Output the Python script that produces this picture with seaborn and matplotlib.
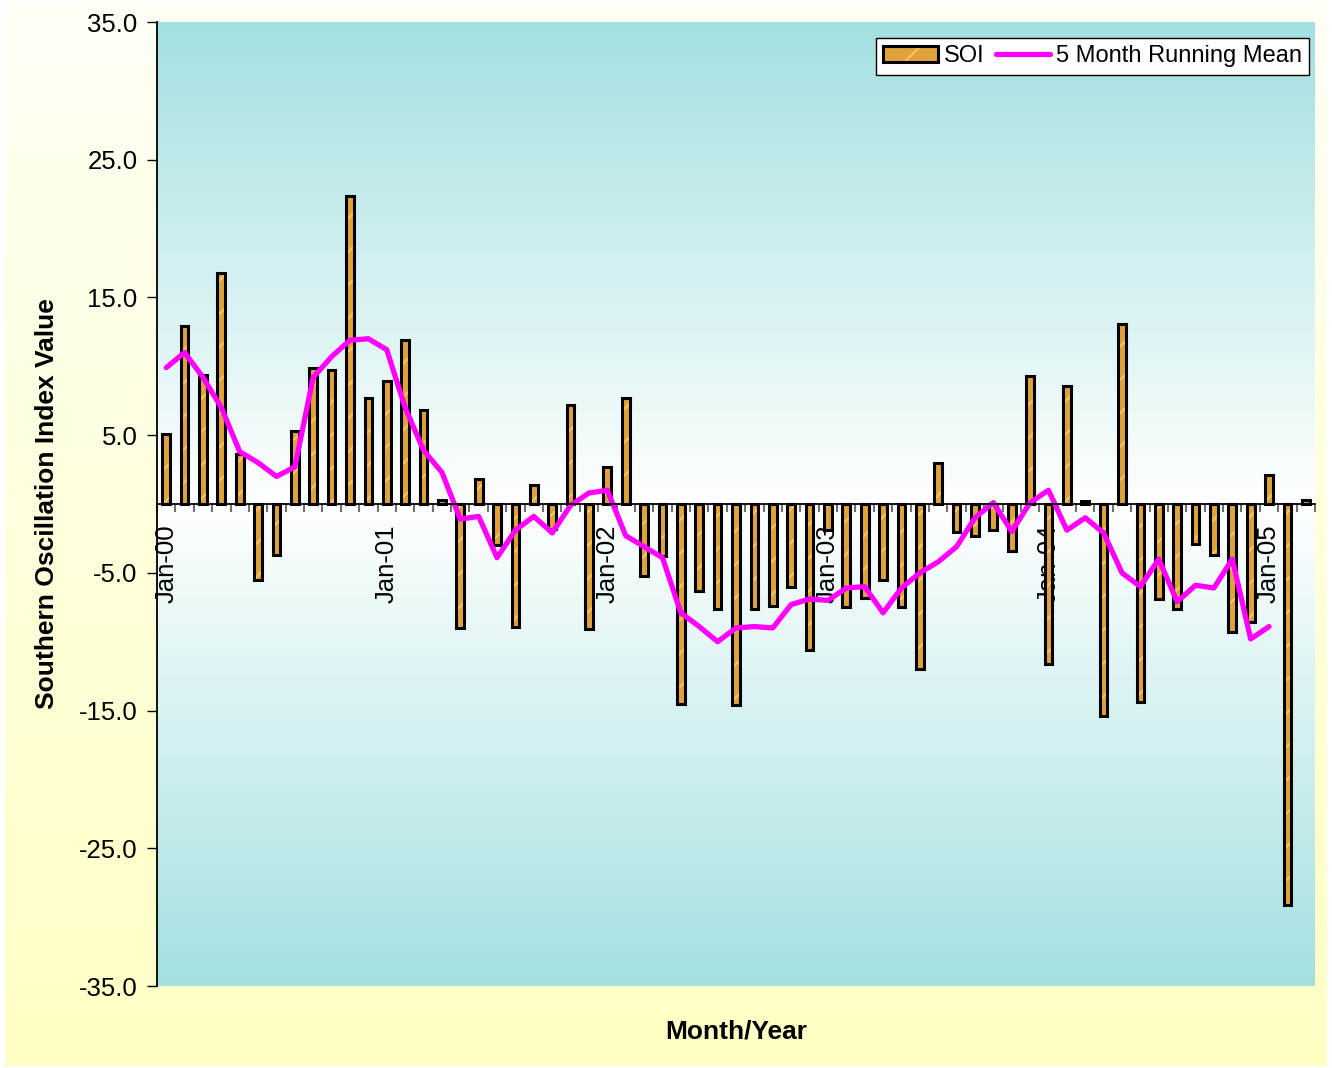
import matplotlib.pyplot as plt
import numpy as np
import pandas as pd
import seaborn as sns
from matplotlib.colors import LinearSegmentedColormap
from matplotlib.legend_handler import HandlerTuple
from matplotlib.lines import Line2D
from matplotlib.patches import Patch

# Monthly SOI, Jan 2000 - Mar 2005
months = pd.date_range("2000-01-01", periods=63, freq="MS").strftime("%b-%y").tolist()

soi = [
    5.1, 12.9, 9.4, 16.8, 3.6, -5.5, -3.7, 5.3, 9.9, 9.7, 22.4, 7.7,
    8.9, 11.9, 6.8, 0.3, -9.0, 1.8, -3.0, -8.9, 1.4, -1.8, 7.2, -9.1,
    2.7, 7.7, -5.2, -3.8, -14.5, -6.3, -7.6, -14.6, -7.6, -7.4, -6.0, -10.6,
    -1.9, -7.5, -6.8, -5.5, -7.5, -12.0, 3.0, -2.0, -2.3, -1.9, -3.4, 9.3,
    -11.6, 8.6, 0.2, -15.4, 13.1, -14.4, -6.9, -7.6, -2.9, -3.7, -9.3, -8.6,
    2.1, -29.1, 0.3,
]

# 5 month running mean (Jan-00 .. Jan-05)
running_mean = [
    9.9, 11.0, 9.2, 7.0, 3.8, 3.0, 2.0, 2.7, 9.2, 10.7, 11.9, 12.0,
    11.2, 7.0, 3.9, 2.3, -1.1, -0.9, -3.9, -1.9, -0.9, -2.1, -0.1, 0.8,
    1.0, -2.3, -3.1, -3.9, -7.9, -8.9, -10.0, -9.0, -8.9, -9.0, -7.3, -6.9,
    -7.0, -6.1, -6.0, -7.9, -6.1, -5.0, -4.2, -3.1, -1.0, 0.1, -2.0, 0.1,
    1.0, -1.9, -1.0, -2.1, -5.0, -6.0, -4.0, -7.1, -5.9, -6.1, -4.0, -9.8,
    -8.9,
]

y_ticks = [-35, -25, -15, -5, 5, 15, 25, 35]

bar_color = "#E0A23A"
hatch_color = "#F7CA66"
line_color = "#FF00FF"

sns.set_style("ticks")
plt.rcParams["font.family"] = ["Liberation Sans", "DejaVu Sans"]
plt.rcParams["hatch.linewidth"] = 1.4
for key in ["text.color", "axes.labelcolor", "xtick.color", "ytick.color"]:
    plt.rcParams[key] = "black"

fig = plt.figure(figsize=(13.32, 10.68), dpi=100, facecolor="white")

# pale yellow chart background
outer = fig.add_axes([0.004, 0.002, 0.992, 0.995], zorder=0)
outer_cmap = LinearSegmentedColormap.from_list("outer", ["#FFFFF6", "#FFFFC4"])
outer.imshow(np.linspace(0, 1, 256).reshape(-1, 1), cmap=outer_cmap,
             aspect="auto", extent=[0, 1, 0, 1])
outer.axis("off")

# teal-white-teal plot area
rect = [157 / 1332, 1 - 986 / 1068, 1158 / 1332, 964 / 1068]
plot_bg = fig.add_axes(rect, zorder=1)
plot_cmap = LinearSegmentedColormap.from_list("plot", ["#A4E0E0", "#FFFFFF", "#A4E0E0"])
plot_bg.imshow(np.linspace(0, 1, 256).reshape(-1, 1), cmap=plot_cmap,
               aspect="auto", extent=[0, 1, 0, 1])
plot_bg.axis("off")

ax = fig.add_axes(rect, zorder=2)
ax.set_facecolor("none")

x = np.arange(len(soi))
# hatched fill, then black outline on top
sns.barplot(x=x, y=soi, ax=ax, width=0.42, color=bar_color, saturation=1,
            edgecolor=hatch_color, linewidth=0, hatch="/", errorbar=None)
sns.barplot(x=x, y=soi, ax=ax, width=0.42, fill=False, color="black",
            linewidth=2.2, errorbar=None)
sns.lineplot(x=x[:len(running_mean)], y=running_mean, ax=ax, color=line_color,
             linewidth=3.8, solid_joinstyle="round", solid_capstyle="round")

ax.set_xlim(-0.5, len(soi) - 0.5)
ax.set_ylim(-35, 35)
ax.set_yticks(y_ticks, [f"{v:.1f}" for v in y_ticks])

ax.spines["bottom"].set_position(("data", 0))
ax.spines[["top", "right"]].set_visible(False)
for side in ["left", "bottom"]:
    ax.spines[side].set_color("black")
    ax.spines[side].set_linewidth(1.3)

jan_idx = x[::12]
ax.set_xticks(jan_idx, [months[i] for i in jan_idx], rotation=90)
ax.set_xticks(np.arange(-0.5, len(soi), 1), minor=True)
ax.tick_params(axis="x", which="major", length=0, pad=15, labelsize=18.5)
ax.tick_params(axis="x", which="minor", length=6, width=1.5, color="#707070",
               direction="out")
ax.tick_params(axis="y", length=7, width=1, direction="out", labelsize=18.5,
               pad=7, color="black")

ax.set_ylabel("Southern Oscillation Index Value", fontsize=19, fontweight="bold")
ax.yaxis.label.set_va("center")
ax.yaxis.set_label_coords(-0.095, 0.5)
ax.set_xlabel("Month/Year", fontsize=19, fontweight="bold")
ax.xaxis.label.set_va("center")
ax.xaxis.set_label_coords(0.5, -0.047)

handles = [
    (Patch(facecolor=bar_color, edgecolor=hatch_color, hatch="/", linewidth=0),
     Patch(facecolor="none", edgecolor="black", linewidth=2.2)),
    Line2D([], [], color=line_color, linewidth=3.8),
]
leg = ax.legend(handles, ["SOI", "5 Month Running Mean"],
                handler_map={tuple: HandlerTuple(ndivide=1)},
                loc="upper right", bbox_to_anchor=(0.995, 0.983), ncol=2,
                fontsize=17, frameon=True, fancybox=False, edgecolor="black",
                framealpha=1, borderpad=0.3, handlelength=2.3,
                handletextpad=0.25, columnspacing=0.5, borderaxespad=0)
leg.get_frame().set_linewidth(1.0)

fig.savefig("out.png", dpi=100)
